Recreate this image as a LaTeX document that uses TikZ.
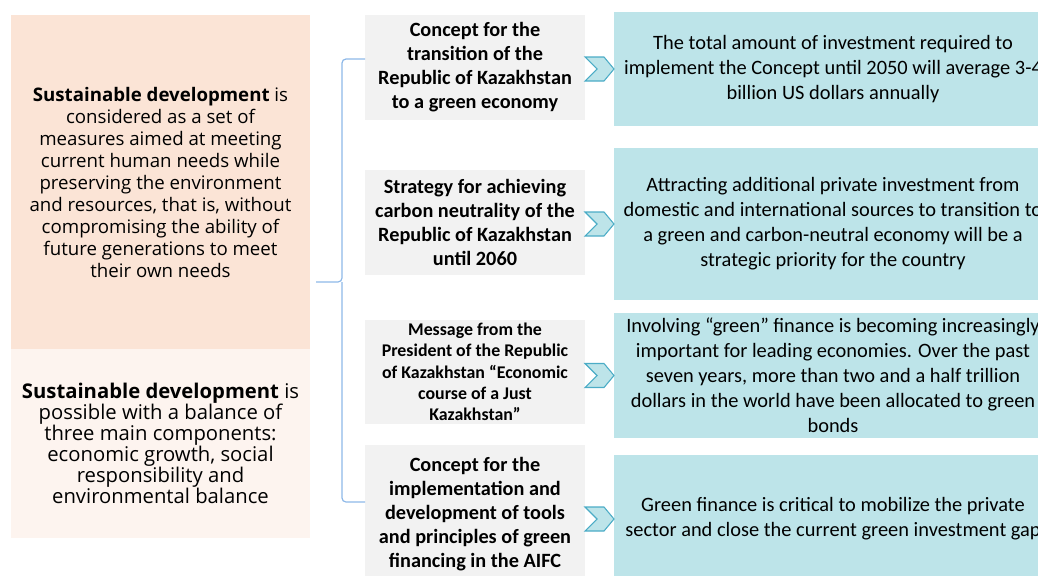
\documentclass[tikz,border=0pt]{standalone}
\usepackage{fontspec}
\setmainfont{Carlito}
\newfontfamily\sidefont{Open Sans}
\usepackage{xcolor}
\definecolor{peach}{HTML}{FBE4D6}
\definecolor{peachlight}{HTML}{FDF4EF}
\definecolor{greybox}{HTML}{F2F2F2}
\definecolor{aqua}{HTML}{BDE4E9}
\definecolor{chevline}{HTML}{4BACC6}
\definecolor{bracecol}{HTML}{8DB8E8}

\begin{document}
\begin{tikzpicture}[x=0.75pt,y=-0.75pt]
			\tikzset{box/.style={fill=#1,inner sep=0pt,outer sep=0pt,align=center},
				side box/.style={box=#1,minimum width=224.25pt},
				doc box/.style={box=greybox,minimum width=165pt,font=\bfseries\fontsize{15.2}{18}\selectfont},
				note box/.style={box=aqua,minimum width=328.5pt,font=\fontsize{15.3}{18.75}\selectfont},
				chev/.style={draw=chevline,fill=aqua,line width=0.8pt,line join=miter}}
			\useasboundingbox (0,0) rectangle (1038,575);
			\clip (0,0) rectangle (1038,575);
			
			\node [side box=peach,minimum height=250.5pt,font=\sidefont\fontsize{14}{16.5}\selectfont] (l1) at (160.5,182) {\textbf{Sustainable development} is\\considered as a set of\\measures aimed at meeting\\current human needs while\\preserving the environment\\and resources, that is, without\\compromising the ability of\\future generations to meet\\their own needs};
			\node [side box=peachlight,minimum height=141.75pt,font=\sidefont\fontsize{15.2}{15.75}\selectfont] (l2) at (160.5,443.5) {\textbf{Sustainable development} is\\possible with a balance of\\three main components:\\economic growth, social\\responsibility and\\environmental balance};
			
			\node [doc box,minimum height=78.75pt] (g1) at (475,67.5) {Concept for the\\transition of the\\Republic of Kazakhstan\\to a green economy};
			\node [doc box,minimum height=78.75pt] (g2) at (475,222.5) {Strategy for achieving\\carbon neutrality of the\\Republic of Kazakhstan\\until 2060};
			\node [doc box,minimum height=78pt,font=\bfseries\fontsize{13.4}{16}\selectfont] (g3) at (475,372) {Message from the\\President of the Republic\\of Kazakhstan “Economic\\course of a Just\\Kazakhstan”};
			\node [doc box,minimum height=103.5pt] (g4) at (475,514) {Concept for the\\implementation and\\development of tools\\and principles of green\\financing in the AIFC};
			
			\node [note box,minimum height=85.5pt] (n1) at (833,69) {The total amount of investment required to\\implement the Concept until 2050 will average 3-4\\billion US dollars annually};
			\node [note box,minimum height=114pt] (n2) at (833,224) {Attracting additional private investment from\\domestic and international sources to transition to\\a green and carbon-neutral economy will be a\\strategic priority for the country};
			\node [note box,minimum height=93.75pt] (n3) at (833,375.5) {Involving “green” finance is becoming increasingly\\important for leading economies. Over the past\\seven years, more than two and a half trillion\\dollars in the world have been allocated to green\\bonds};
			\node [note box,minimum height=96pt] (n4) at (833,519) {Green finance is critical to mobilize the private\\sector and close the current green investment gap};
			
			% chevrons in front of the notes
			\foreach \i in {1,...,4}
			\draw [chev,shift={(n\i.west)}] (-29,-12) -- (-10,-12) -- (0,0) -- (-10,12) -- (-29,12) -- (-17,0) -- cycle;
			
			% brace
			\coordinate (btop) at (g1.west |- 0,59);
			\coordinate (bbot) at (g4.west |- 0,502);
			\coordinate (tip) at (316,282);
			\draw [bracecol,line width=0.9pt,rounded corners=3pt] (btop) -| (342,282) -- (tip);
			\draw [bracecol,line width=0.9pt,rounded corners=3pt] (bbot) -| (342,282);
\end{tikzpicture}
\end{document}
